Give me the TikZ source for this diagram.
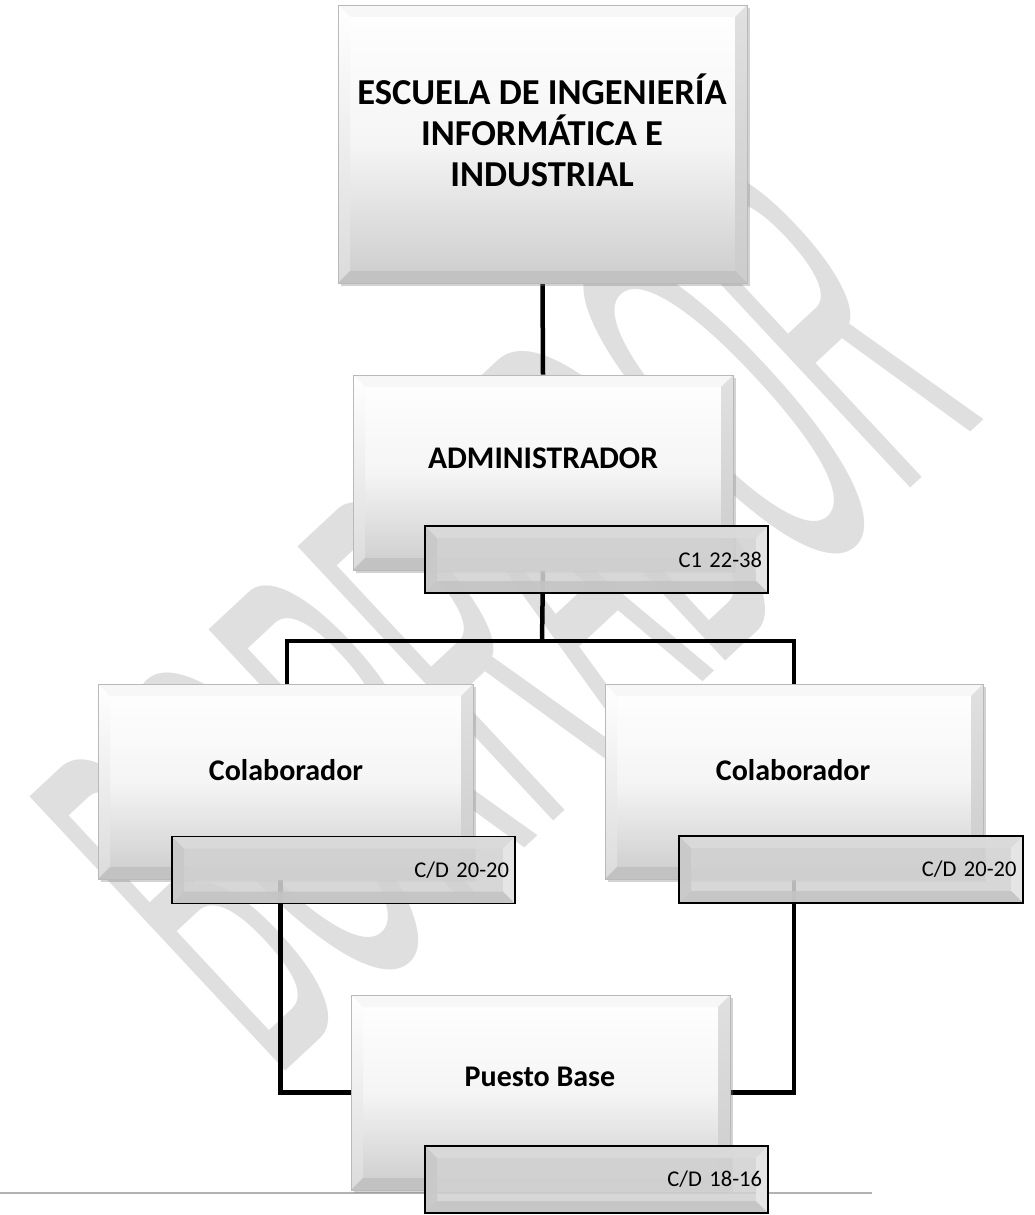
\documentclass[tikz,border=0pt]{standalone}
\usepackage{fontspec}
\setmainfont{Carlito}
\newfontfamily\wmfont{Liberation Sans}
\usetikzlibrary{shadows}
\pgfdeclarelayer{wm}
\pgfdeclarelayer{back}
\pgfsetlayers{wm,back,main}
\def\bevw{12pt}
\tikzset{
  conn/.style={line width=4.5pt, black},
  footer/.style={line width=2pt, gray!60},
  bevel/.style={path picture={
    \coordinate (pNW) at (path picture bounding box.north west);
    \coordinate (pNE) at (path picture bounding box.north east);
    \coordinate (pSW) at (path picture bounding box.south west);
    \coordinate (pSE) at (path picture bounding box.south east);
    \fill[white!97!black] (pNW) -- (pNE) -- ([shift={(-\bevw,-\bevw)}]pNE) -- ([shift={(\bevw,-\bevw)}]pNW) -- cycle;
    \shade[top color=white, bottom color=white!86!black] (pNW) -- ([shift={(\bevw,-\bevw)}]pNW) -- ([shift={(\bevw,\bevw)}]pSW) -- (pSW) -- cycle;
    \shade[top color=white!88!black, bottom color=white!80!black] (pNE) -- (pSE) -- ([shift={(-\bevw,\bevw)}]pSE) -- ([shift={(-\bevw,-\bevw)}]pNE) -- cycle;
    \fill[white!76!black] (pSW) -- (pSE) -- ([shift={(-\bevw,\bevw)}]pSE) -- ([shift={(\bevw,\bevw)}]pSW) -- cycle;
  }},
  subbevel/.style={path picture={
    \coordinate (pNW) at (path picture bounding box.north west);
    \coordinate (pNE) at (path picture bounding box.north east);
    \coordinate (pSW) at (path picture bounding box.south west);
    \coordinate (pSE) at (path picture bounding box.south east);
    \fill[white!86!black] (pNW) -- (pNE) -- ([shift={(-\bevw,-\bevw)}]pNE) -- ([shift={(\bevw,-\bevw)}]pNW) -- cycle;
    \fill[white!79!black] (pNW) -- ([shift={(\bevw,-\bevw)}]pNW) -- ([shift={(\bevw,\bevw)}]pSW) -- (pSW) -- cycle;
    \fill[white!91!black] (pNE) -- (pSE) -- ([shift={(-\bevw,\bevw)}]pSE) -- ([shift={(-\bevw,-\bevw)}]pNE) -- cycle;
    \fill[white!77!black] (pSW) -- (pSE) -- ([shift={(-\bevw,\bevw)}]pSE) -- ([shift={(\bevw,\bevw)}]pSW) -- cycle;
  }},
  mainbox/.style={draw=gray!55, line width=0.8pt, top color=white, bottom color=white!80!black,
    middle color=white!96!black,
    drop shadow={shadow xshift=2.5pt, shadow yshift=-3pt, opacity=0.35},
    bevel, inner sep=0pt},
  subbox/.style={draw=black, line width=1.6pt, fill=white!82!black, fill opacity=0.88, draw opacity=1,
    text opacity=1, subbevel, inner sep=6pt, minimum width=343pt, minimum height=67pt,
    text width=331pt, align=right, font=\fontsize{22.5}{26}\selectfont},
  boxlabel/.style={font=\bfseries\fontsize{30}{36}\selectfont, inner sep=0pt},
}
\begin{document}
\begin{tikzpicture}[x=1pt,y=-1pt]
\useasboundingbox (0,0) rectangle (1034,1215);

% watermark
\begin{pgfonlayer}{wm}
\node[text=gray!25, rotate=43, xscale=0.31, inner sep=0pt,
      font=\wmfont\fontsize{545}{545}\selectfont] (wmark) at (505,610) {BORRADOR};
\end{pgfonlayer}

% boxes
\node[mainbox, minimum width=409pt, minimum height=278pt] (top) at (542.5,144) {};
\node[font=\bfseries\fontsize{36.5}{41}\selectfont, align=center, inner sep=0pt] (topT) at (542,130)
  {ESCUELA DE INGENIERÍA\\INFORMÁTICA E\\INDUSTRIAL};

\node[mainbox, minimum width=380pt, minimum height=195pt] (admin) at (543,472.5) {};
\node[boxlabel, font=\bfseries\fontsize{31.5}{36}\selectfont] (adminT) at (543,458) {ADMINISTRADOR};
\node[subbox] (adminS) at (596.5,559.5) {C1 22-38};

\node[mainbox, minimum width=375pt, minimum height=195pt] (colL) at (285.5,781.5) {};
\node[boxlabel] (colLT) at (286,770) {Colaborador};
\node[subbox] (colLS) at (343.5,870) {C/D 20-20};

\node[mainbox, minimum width=378pt, minimum height=195pt] (colR) at (794,781.5) {};
\node[boxlabel] (colRT) at (793,770) {Colaborador};
\node[subbox, minimum width=344pt] (colRS) at (851,869.5) {C/D 20-20};

\node[mainbox, minimum width=379pt, minimum height=195pt] (puesto) at (540.5,1092.5) {};
\node[boxlabel] (puestoT) at (540,1077) {Puesto Base};
\node[subbox] (puestoS) at (596.5,1179.5) {C/D 18-16};

% connectors
\begin{pgfonlayer}{back}
\coordinate (fl) at (0,1193);
\coordinate (fr) at (872,1193);
\draw[footer] (fl) -- (fr);
\coordinate (bar) at (542,641);
\draw[conn] (top.south) -- (admin.north);
\draw[conn] (admin.south) -- (bar);
\draw[conn] ([xshift=1.5pt]colL.north) |- (bar) -| (colR.north);
\draw[conn] ([xshift=-5pt]colL.south) |- (puesto.west);
\draw[conn] (colR.south) |- (puesto.east);
\end{pgfonlayer}
\end{tikzpicture}
\end{document}
